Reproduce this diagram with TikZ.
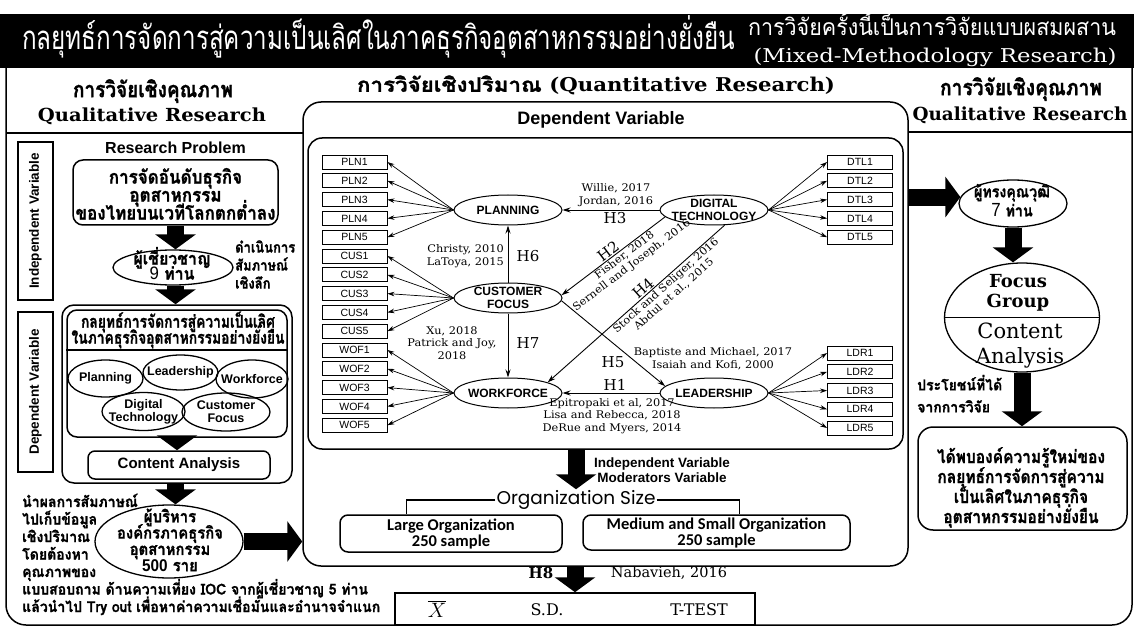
\documentclass[tikz,border=0pt]{standalone}
\usepackage{fontspec}
\usepackage{graphicx}
\usepackage{array}
\usetikzlibrary{shapes.geometric,arrows.meta,calc}
\setmainfont{Liberation Sans}
\newfontfamily\thai[Script=Thai,BoldFeatures={FakeBold=1.2}]{Loma}
\newfontfamily\dser{DejaVu Serif}
\newfontfamily\citef[FakeStretch=1.08]{DejaVu Serif}
\newfontfamily\pop{Poppins}
\newfontfamily\carl{Carlito}
\newfontfamily\lsans{Liberation Sans}
\newcolumntype{C}{>{\setbox0=\hbox\bgroup}c<{\egroup\ht0=0pt\dp0=0pt\box0}}
\newcolumntype{L}{>{\setbox0=\hbox\bgroup}l<{\egroup\ht0=0pt\dp0=0pt\box0}}
\newcommand{\fs}[2]{\fontsize{#1}{#2}\selectfont}
\newcommand{\fw}[2]{\resizebox{#1}{\height}{#2}}
\newcommand{\tb}[3]{\resizebox{#1}{\height}{\begin{tabular}{@{}#2@{}}#3\end{tabular}}}
\tikzset{
  lw/.style={line width=1.5pt},
  rbox/.style={draw, line width=1.5pt, rounded corners=10pt, inner sep=0pt},
  ind/.style={draw, line width=0.8pt, minimum width=65pt, minimum height=14pt, inner sep=0pt, font=\fs{10.5}{11}},
  lat/.style={ellipse, draw, line width=1pt, minimum width=108pt, minimum height=30pt, inner sep=0pt},
  latlab/.style={font=\bfseries\fs{12}{13}, align=center, inner sep=0pt},
  ell/.style={ellipse, draw, line width=1.3pt, inner sep=0pt},
  ellab/.style={font=\bfseries\fs{12.5}{13}, align=center, inner sep=0pt},
  sarr/.style={-{Stealth[length=8pt,width=5pt]}, line width=0.9pt},
  iarr/.style={-{Stealth[length=7pt,width=4.5pt]}, line width=0.7pt},
  barr/.style={line width=17pt, -{Triangle[length=15pt,width=40pt]}},
  cit/.style={font=\citef\fs{10.5}{12.5}, inner sep=1pt, align=center},
  hl/.style={font=\dser\fs{15}{16}, inner sep=1pt},
  thb/.style={inner sep=0pt},
}
\begin{document}
\begin{tikzpicture}[x=1pt,y=-1pt]
\useasboundingbox (0,0) rectangle (1134,628);
% ---------------- banner
\fill (0,14) rectangle (1134,68);
\node[thb, text=white, font=\thai\fs{33}{40}, anchor=west] (title) at (22,42)
  {\tb{713pt}{C}{กลยุทธ์การจัดการสู่ความเป็นเลิศในภาคธุรกิจอุตสาหกรรมอย่างยั่งยืน}};
\node[thb, text=white, font=\thai\fs{23}{27}] (mix1) at (932,30)
  {\tb{368pt}{C}{การวิจัยครั้งนี้เป็นการวิจัยแบบผสมผสาน}};
\node[thb, text=white, font=\dser\fs{19}{21}] (mix2) at (935,57)
  {\fw{363pt}{(Mixed-Methodology Research)}};
% ---------------- outer frame
\draw[lw, rounded corners=20pt] (6,68) -- (6,625) -- (1132,625) -- (1132,68);
% ---------------- headers
\node[thb, font=\thai\bfseries\fs{22}{26}] (lh1) at (153,92) {\tb{160pt}{C}{การวิจัยเชิงคุณภาพ}};
\node[thb, font=\dser\bfseries\fs{18}{20}] (lh2) at (152,116) {\fw{228pt}{Qualitative Research}};
\draw[lw] (6,133) -- (303,133);
\node[thb, font=\thai\bfseries\fs{22}{26}] (rh1) at (1021,90) {\tb{162pt}{C}{การวิจัยเชิงคุณภาพ}};
\node[thb, font=\dser\bfseries\fs{18}{20}] (rh2) at (1020,115) {\fw{215pt}{Qualitative Research}};
\draw[lw] (908,132) -- (1132,132);
% ---------------- center boxes
\node[rbox, rounded corners=18pt, minimum width=605pt, minimum height=464pt] (cbox) at (605.5,334) {};
\node[rbox, rounded corners=14pt, minimum width=595pt, minimum height=311pt] (ibox) at (605.5,293.5) {};
\node[thb, font=\thai\bfseries\fs{20}{24}] (ch) at (596,87)
  {\tb{478pt}{C}{การวิจัยเชิงปริมาณ {\dser\bfseries\fs{19}{24}(Quantitative Research)}}};
\node[thb, font=\bfseries\fs{18}{20}] (dvh) at (601,120) {Dependent Variable};
% ---------------- left column
\node[draw, line width=1.2pt, rotate=90, minimum width=158pt, minimum height=35pt, inner sep=0pt, font=\bfseries\fs{13.5}{14}] (ivb) at (35.5,221) {Independent Variable};
\node[draw, line width=1.2pt, rotate=90, minimum width=160pt, minimum height=35pt, inner sep=0pt, font=\bfseries\fs{13.5}{14}] (dvb) at (35.5,392) {Dependent Variable};
\node[thb, font=\bfseries\fs{16}{18}] (rp) at (175.5,148) {Research Problem};
\node[rbox, minimum width=205pt, minimum height=65pt] (rpb) at (175.5,192.5) {};
\node[thb, font=\thai\bfseries\fs{19}{18}] (rpt) at (175.5,198)
  {\tb{200pt}{C}{การจัดอันดับธุรกิจ\\อุตสาหกรรม\\ของไทยบนเวทีโลกตกต่ำลง}};
\node[ell, minimum width=120pt, minimum height=35pt] (e9) at (173,267.5) {};
\node[thb, font=\thai\bfseries\fs{17}{15}] (e9t) at (172,269)
  {\tb{77pt}{C}{ผู้เชี่ยวชาญ\\{\lsans\mdseries\fs{18}{15}9} ท่าน}};
\node[thb, font=\thai\bfseries\fs{15}{18}, anchor=west] (side) at (235,267)
  {\tb{60pt}{L}{ดำเนินการ\\สัมภาษณ์\\เชิงลึก}};
\node[rbox, rounded corners=12pt, minimum width=230pt, minimum height=178pt] (so) at (177,394) {};
\node[rbox, rounded corners=10pt, minimum width=220pt, minimum height=127pt] (si) at (177,373.5) {};
\draw[lw] (si.west |- 0,350) -- (si.east |- 0,350);
\node[thb, font=\thai\bfseries\fs{17.5}{16}] (st) at (178,332.5)
  {\tb{213pt}{C}{กลยุทธ์การจัดการสู่ความเป็นเลิศ\\ในภาคธุรกิจอุตสาหกรรมอย่างยั่งยืน}};
\node[ell, minimum width=75pt, minimum height=37pt] (epl) at (105.5,378.5) {};
\node[ell, minimum width=75pt, minimum height=35pt] (eld) at (180.5,372.5) {};
\node[ell, minimum width=72pt, minimum height=38pt] (ewf) at (252,379) {};
\node[ell, minimum width=83pt, minimum height=38pt] (edt) at (143.5,411.5) {};
\node[ell, minimum width=88pt, minimum height=38pt] (ecf) at (226,412) {};
\node[ellab] (tpl) at (epl) {Planning};
\node[ellab] (tld) at (eld) {Leadership};
\node[ellab] (twf) at (ewf) {Workforce};
\node[ellab] (tdt) at (edt) {Digital\\Technology};
\node[ellab] (tcf) at (ecf) {Customer\\Focus};
\node[rbox, rounded corners=7pt, minimum width=182pt, minimum height=28pt, font=\bfseries\fs{15}{16}] (ca) at (179,465) {Content Analysis};
\node[ell, minimum width=148pt, minimum height=73pt] (e5) at (169,541.5) {};
\node[thb, font=\thai\bfseries\fs{16.5}{16.3}] (e5t) at (170,543.5)
  {\tb{106pt}{C}{ผู้บริหาร\\องค์กรภาคธุรกิจ\\อุตสาหกรรม\\{\lsans\bfseries\fs{17}{16}500} ราย}};
\node[thb, font=\thai\bfseries\fs{15}{17.5}, anchor=west] (lt) at (22,556)
  {\tb{358pt}{L}{นำผลการสัมภาษณ์\\ไปเก็บข้อมูล\\เชิงปริมาณ\\โดยต้องหา\\คุณภาพของ\\แบบสอบถาม ด้านความเที่ยง IOC จากผู้เชี่ยวชาญ 5 ท่าน\\แล้วนำไป Try out เพื่อหาค่าความเชื่อมั่นและอำนาจจำแนก}};
% ---------------- center: indicators
\foreach \i/\lab in {0/PLN1,1/PLN2,2/PLN3,3/PLN4,4/PLN5,5/CUS1,6/CUS2,7/CUS3,8/CUS4,9/CUS5,10/WOF1,11/WOF2,12/WOF3,13/WOF4,14/WOF5}
  \node[ind] (L\i) at (354.5,{162+18.8*\i}) {\lab};
\foreach \i/\lab in {0/DTL1,1/DTL2,2/DTL3,3/DTL4,4/DTL5}
  \node[ind] (R\i) at (860,{162+18.8*\i}) {\lab};
\foreach \i/\lab in {5/LDR1,6/LDR2,7/LDR3,8/LDR4,9/LDR5}
  \node[ind] (R\i) at (860,{353+18.75*(\i-5)}) {\lab};
% latent
\node[lat] (pl) at (508,210) {};
\node[lat] (dt) at (714,210) {};
\node[lat] (cf) at (508,298) {};
\node[lat] (wf) at (508,393) {};
\node[lat] (ld) at (714,393) {};
\node[latlab] (tpl2) at (pl) {PLANNING};
\node[latlab] (tdt2) at (dt) {DIGITAL\\TECHNOLOGY};
\node[latlab] (tcf2) at (cf) {CUSTOMER\\FOCUS};
\node[latlab] (twf2) at (wf) {WORKFORCE};
\node[latlab] (tld2) at (ld) {LEADERSHIP};
\foreach \i in {0,...,4} \draw[iarr] (pl.west) -- (L\i.east);
\foreach \i in {5,...,9} \draw[iarr] (cf.west) -- (L\i.east);
\foreach \i in {10,...,14} \draw[iarr] (wf.west) -- (L\i.east);
\foreach \i in {0,...,4} \draw[iarr] (dt.east) -- (R\i.west);
\foreach \i in {5,...,9} \draw[iarr] (ld.east) -- (R\i.west);
% structural paths
\draw[sarr] (dt.west) -- (pl.east);
\draw[sarr] (cf.north) -- (pl.south);
\draw[sarr] (cf.south) -- (wf.north);
\draw[sarr] (ld.west) -- (wf.east);
\draw[sarr] (cf.-3) -- (ld.172);
\draw[line width=0.9pt, {Stealth[length=8pt,width=5pt]}-] (cf.3) -- (dt.188)
  node[pos=0.49, sloped, above, hl] (h2) {H2}
  node[pos=0.57, sloped, below, cit] (c2a) {Fisher, 2018}
  node[pos=0.57, sloped, below, cit, yshift=-12pt] (c2b) {Sernell and Joseph, 2016};
\draw[line width=0.9pt, {Stealth[length=8pt,width=5pt]}-] (wf.15) -- (dt.305)
  node[pos=0.565, sloped, above, hl] (h4) {H4}
  node[pos=0.645, sloped, below, cit] (c4a) {Stock and Seliger, 2016}
  node[pos=0.645, sloped, below, cit, yshift=-12pt] (c4b) {Abdul et al., 2015};
\node[cit] (c3) at (616,195) {Willie, 2017\\Jordan, 2016};
\node[hl] (h3) at (615,218) {H3};
\node[cit, align=right, anchor=east] (c6) at (505,256) {Christy, 2010\\LaToya, 2015};
\node[hl] (h6) at (528,256) {H6};
\node[cit] (c7) at (452,343) {Xu, 2018\\Patrick and Joy,\\2018};
\node[hl] (h7) at (528,343) {H7};
\node[hl] (h5) at (613,362) {H5};
\node[cit] (c5) at (713,358.5) {Baptiste and Michael, 2017\\Isaiah and Kofi, 2000};
\node[hl] (h1) at (615,385) {H1};
\node[cit] (c1) at (612,416) {Epitropaki et al, 2017\\Lisa and Rebecca, 2018\\DeRue and Myers, 2014};
% ---------------- center bottom
\node[thb, font=\bfseries\fs{13.5}{15}, align=center] (ivm) at (662,470) {Independent Variable\\Moderators Variable};
\node[font=\pop\fs{18.5}{20}, inner sep=1pt] (org) at (576,500) {Organization Size};
\node[rbox, rounded corners=8pt, minimum width=222pt, minimum height=37pt, font=\carl\bfseries\fs{16.5}{16}, align=center] (lg) at (451,533.5) {Large Organization\\250 sample};
\node[rbox, rounded corners=8pt, minimum width=267pt, minimum height=35pt, font=\carl\bfseries\fs{16.5}{16}, align=center] (ms) at (716.5,532.5) {Medium and Small Organization\\250 sample};
\draw[line width=1.3pt] (org.west) -| ([xshift=67pt]lg.north west);
\draw[line width=1.3pt] (org.east) -| ([xshift=157pt]ms.north west);
\node[draw, line width=1.5pt, minimum width=360pt, minimum height=32pt, inner sep=0pt] (bt) at (575,609) {};
\node[thb, font=\fs{21}{22}] (xbar) at (437,609) {$\overline{X}$};
\node[thb, font=\dser\fs{16}{17}] (sd) at (547,610) {S.D.};
\node[thb, font=\dser\fs{16}{17}] (tt) at (699,610) {T-TEST};
\node[thb, font=\dser\bfseries\fs{15}{16}] (h8) at (541,573) {H8};
\node[thb, font=\dser\fs{14.5}{16}] (nab) at (669,573) {Nabavieh, 2016};
% ---------------- right column
\node[ell, minimum width=108pt, minimum height=47pt] (e7) at (1013,203.5) {};
\node[thb, font=\thai\bfseries\fs{16}{19}] (e7t) at (1012,203)
  {\tb{76pt}{C}{ผู้ทรงคุณวุฒิ\\{\lsans\mdseries\fs{19}{19}7} ท่าน}};
\node[ell, minimum width=155pt, minimum height=109pt] (fg) at (1022,317.5) {};
\draw[line width=1.3pt] (fg.west) -- (fg.east);
\node[thb, font=\dser\bfseries\fs{18}{20}, align=center] (tfg) at (1018,293) {Focus\\Group};
\node[thb, font=\dser\fs{21}{25}, align=center] (tca) at (1020,346) {Content\\Analysis};
\node[rbox, rounded corners=15pt, minimum width=209pt, minimum height=103pt] (kb) at (1022.5,478.5) {};
\node[thb, font=\thai\bfseries\fs{18}{20}] (kbt) at (1021,489)
  {\tb{168pt}{C}{ได้พบองค์ความรู้ใหม่ของ\\กลยุทธ์การจัดการสู่ความ\\เป็นเลิศในภาคธุรกิจ\\อุตสาหกรรมอย่างยั่งยืน}};
\node[thb, font=\thai\bfseries\fs{15}{22}, anchor=west] (ben) at (917,397)
  {\tb{85pt}{L}{ประโยชน์ที่ได้\\จากการวิจัย}};
% ---------------- block arrows
\draw[barr] (rpb.south) -- (rpb.south |- e9.north);
\draw[barr] (e9.south -| rpb.south) -- (so.north -| rpb.south);
\draw[barr] (si.south) -- (si.south |- ca.north);
\draw[barr] (so.south -| rpb.south) -- (e5.north -| rpb.south);
\draw[barr] (e5.east) -- (e5.east -| cbox.west);
\draw[barr] (ibox.south -| org.north) -- (org.north);
\draw[barr] (cbox.south -| bt.north) -- (bt.north);
\draw[barr] (cbox.east |- e7.173) -- (e7.173);
\draw[barr] (e7.south) -- (e7.south |- fg.north);
\draw[barr] (fg.south) -- (fg.south |- kb.north);
\end{tikzpicture}
\end{document}
